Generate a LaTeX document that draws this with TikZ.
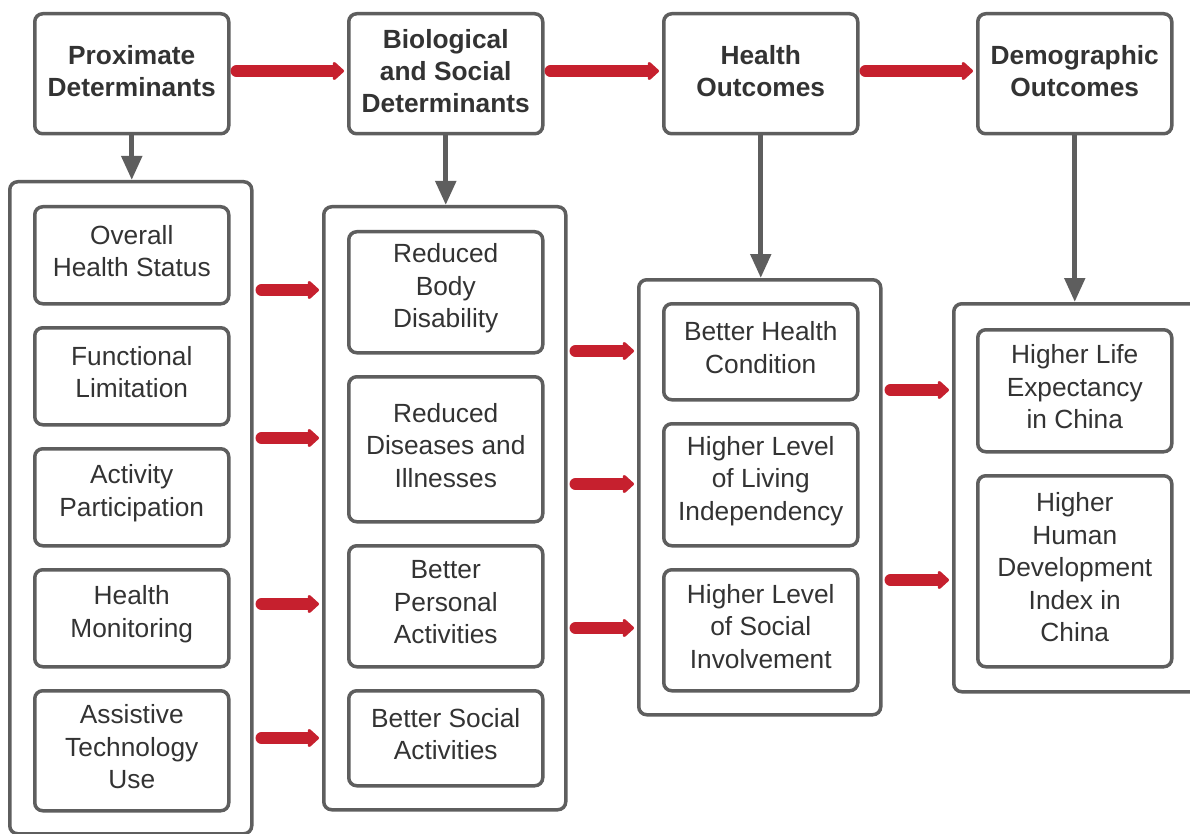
\documentclass[tikz,border=0pt]{standalone}
\usepackage{fontspec}
\setmainfont{Liberation Sans}
\usetikzlibrary{arrows.meta}
\definecolor{boxgray}{HTML}{5E5E5E}
\definecolor{txtgray}{HTML}{333333}
\definecolor{flowred}{RGB}{198,32,46}
\tikzset{
  basebox/.style={draw=boxgray, line width=3.5pt, rounded corners=8pt, fill=white,
    anchor=north west, inner sep=0pt},
  headtext/.style={align=center, inner sep=0pt, text=txtgray, yshift=3pt,
    font=\bfseries\fontsize{26.3}{32}\selectfont},
  itemtext/.style={align=center, inner sep=0pt, text=txtgray, yshift=4pt,
    font=\fontsize{26.3}{32.5}\selectfont},
  headbox/.style={basebox, minimum width=194pt, minimum height=120pt,
    label={[headtext]center:#1}},
  itembox/.style={basebox, minimum width=194pt, label={[itemtext]center:#1}},
  framebox/.style={basebox, minimum width=242pt},
  redflow/.style={draw=flowred, line width=12pt, line cap=round,
    -{Triangle[length=12pt,width=21pt,round]}},
  grayflow/.style={draw=boxgray, line width=5pt,
    -{Triangle[length=24pt,width=20pt]}}
}
\begin{document}
\begin{tikzpicture}[x=1pt,y=1pt]
\clip (0,0) rectangle (1190,-834);
\fill[white] (0,0) rectangle (1190,-834);

% header row
\node[headbox={Proximate\\Determinants}] (prox) at (33,-12) {};
\node[headbox={Biological\\and Social\\Determinants}] (bio) at (347,-12) {};
\node[headbox={Health\\Outcomes}] (hout) at (662,-12) {};
\node[headbox={Demographic\\Outcomes}] (demo) at (976,-12) {};

% column frames
\node[framebox, minimum height=652pt] (c1) at (8,-180) {};
\node[framebox, minimum height=603pt] (c2) at (322,-205) {};
\node[framebox, minimum height=435pt] (c3) at (637,-278) {};
\node[framebox, minimum width=260pt, minimum height=388pt] (c4) at (952,-302) {};

% column 1 items
\node[itembox={Overall\\Health Status}, minimum height=97pt] (a1) at (33,-205) {};
\node[itembox={Functional\\Limitation}, minimum height=97pt] (a2) at (33,-326) {};
\node[itembox={Activity\\Participation}, minimum height=97pt] (a3) at (33,-447) {};
\node[itembox={Health\\Monitoring}, minimum height=97pt] (a4) at (33,-568) {};
\node[itembox={Assistive\\Technology\\Use}, minimum height=120pt] (a5) at (33,-689) {};

% column 2 items
\node[itembox={Reduced\\Body\\Disability}, minimum height=121pt] (b1) at (347,-230) {};
\node[itembox={Reduced\\Diseases and\\Illnesses}, minimum height=145pt] (b2) at (347,-375) {};
\node[itembox={Better\\Personal\\Activities}, minimum height=121pt] (b3) at (347,-544) {};
\node[itembox={Better Social\\Activities}, minimum height=95pt] (b4) at (347,-689) {};

% column 3 items
\node[itembox={Better Health\\Condition}, minimum height=96pt] (h1) at (662,-302) {};
\node[itembox={Higher Level\\of Living\\Independency}, minimum height=122pt] (h2) at (662,-422) {};
\node[itembox={Higher Level\\of Social\\Involvement}, minimum height=121pt] (h3) at (662,-568) {};

% column 4 items
\node[itembox={Higher Life\\Expectancy\\in China}, minimum height=122pt] (d1) at (976,-328) {};
\node[itembox={Higher\\Human\\Development\\Index in\\China}, minimum height=191pt] (d2) at (976,-474) {};

% header flow
\draw[redflow] ([xshift=6pt]prox.east |- 0,-71) -- ([xshift=-3pt]bio.west |- 0,-71);
\draw[redflow] ([xshift=6pt]bio.east |- 0,-71) -- ([xshift=-3pt]hout.west |- 0,-71);
\draw[redflow] ([xshift=6pt]hout.east |- 0,-71) -- ([xshift=-3pt]demo.west |- 0,-71);

% header to column
\draw[grayflow] (prox.south) -- (c1.north -| prox.south);
\draw[grayflow] (bio.south) -- (c2.north -| bio.south);
\draw[grayflow] (hout.south) -- (c3.north -| hout.south);
\draw[grayflow] (demo.south) -- (c4.north -| demo.south);

% column 1 to column 2
\foreach \yy in {-290,-438,-604,-738}
  \draw[redflow] ([xshift=8pt]c1.east |- 0,\yy) -- ([xshift=-3pt]c2.west |- 0,\yy);
% column 2 to column 3
\foreach \yy in {-351,-484,-628}
  \draw[redflow] ([xshift=8pt]c2.east |- 0,\yy) -- ([xshift=-3pt]c3.west |- 0,\yy);
% column 3 to column 4
\foreach \yy in {-390,-580}
  \draw[redflow] ([xshift=8pt]c3.east |- 0,\yy) -- ([xshift=-3pt]c4.west |- 0,\yy);
\end{tikzpicture}
\end{document}
